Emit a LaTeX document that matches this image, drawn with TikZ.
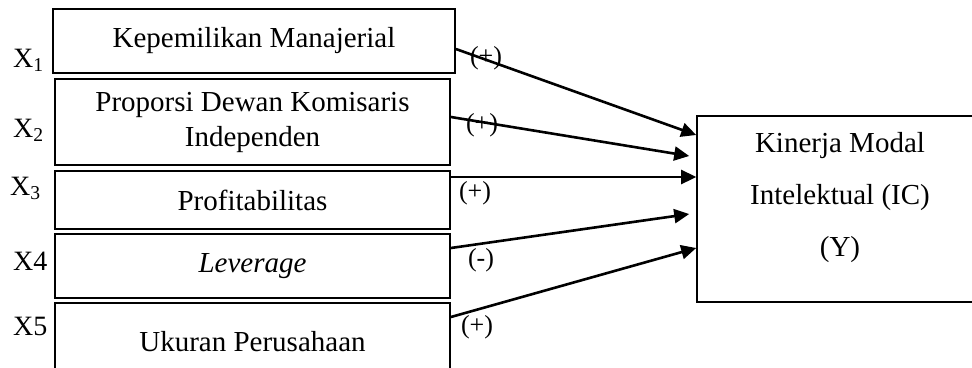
\documentclass[tikz,border=0pt]{standalone}
\usepackage{fontspec}
\setmainfont{Liberation Serif}
\usetikzlibrary{arrows.meta,calc}

\tikzset{
  varbox/.style={draw, line width=1.8pt, inner sep=0pt, align=center,
    font=\fontsize{29}{35}\selectfont},
  ybox/.style={draw, line width=1.6pt, inner sep=0pt,
    minimum width=286pt, minimum height=186pt},
  ytext/.style={align=center, inner sep=0pt, font=\fontsize{29}{52}\selectfont},
  xlab/.style={anchor=base west, inner sep=0pt, font=\fontsize{28}{30}\selectfont},
  sign/.style={inner sep=0pt, font=\fontsize{26}{28}\selectfont},
  effect/.style={line width=2.6pt, -{Triangle[length=15pt,width=14pt]}}
}

\begin{document}
\begin{tikzpicture}[x=1pt, y=-1pt]
  \useasboundingbox (0,0) rectangle (972,367);
  \clip (0,0) rectangle (972,367);

  % independent variables
  \node[varbox, minimum width=402pt, minimum height=64pt] (b1) at (254,41)
    {Kepemilikan Manajerial};
  \node[varbox, minimum width=395pt, minimum height=86pt] (b2) at (252.5,122)
    {Proporsi Dewan Komisaris\\Independen};
  \node[varbox, minimum width=395pt, minimum height=58pt] (b3) at (252.5,200)
    {Profitabilitas};
  \node[varbox, minimum width=395pt, minimum height=64pt] (b4) at (252.5,266)
    {\itshape Leverage};
  \node[varbox, minimum width=395pt, minimum height=78pt] (b5) at (252.5,342)
    {Ukuran Perusahaan};

  % variable symbols
  \node[xlab] (x1) at (13,67) {X\textsubscript{1}};
  \node[xlab] (x2) at (13,137) {X\textsubscript{2}};
  \node[xlab] (x3) at (10,195) {X\textsubscript{3}};
  \node[xlab] (x4) at (13,270) {X4};
  \node[xlab] (x5) at (13,335) {X5};

  % dependent variable
  \node[ybox] (y) at (840,209) {};
  \node[ytext] (yt) at (840,198)
    {Kinerja Modal\\Intelektual (IC)\\(Y)};

  % hypothesised effects
  \draw[effect] ($(b1.east)+(0,8)$)  -- ($(y.west)+(0,-74)$);
  \draw[effect] ($(b2.east)+(0,-5)$) -- ($(y.west)+(-7,-53)$);
  \draw[effect] ($(b3.east)+(0,-23)$) -- ($(y.west)+(0,-32)$);
  \draw[effect] ($(b4.east)+(0,-18)$) -- ($(y.west)+(-7,5)$);
  \draw[effect] ($(b5.east)+(0,-25)$) -- ($(y.west)+(0,39)$);

  % signs
  \node[sign] (s1) at (486,58) {(+)};
  \node[sign] (s2) at (482,125) {(+)};
  \node[sign] (s3) at (475,193) {(+)};
  \node[sign] (s4) at (481,260) {(-)};
  \node[sign] (s5) at (477,327) {(+)};
\end{tikzpicture}
\end{document}
